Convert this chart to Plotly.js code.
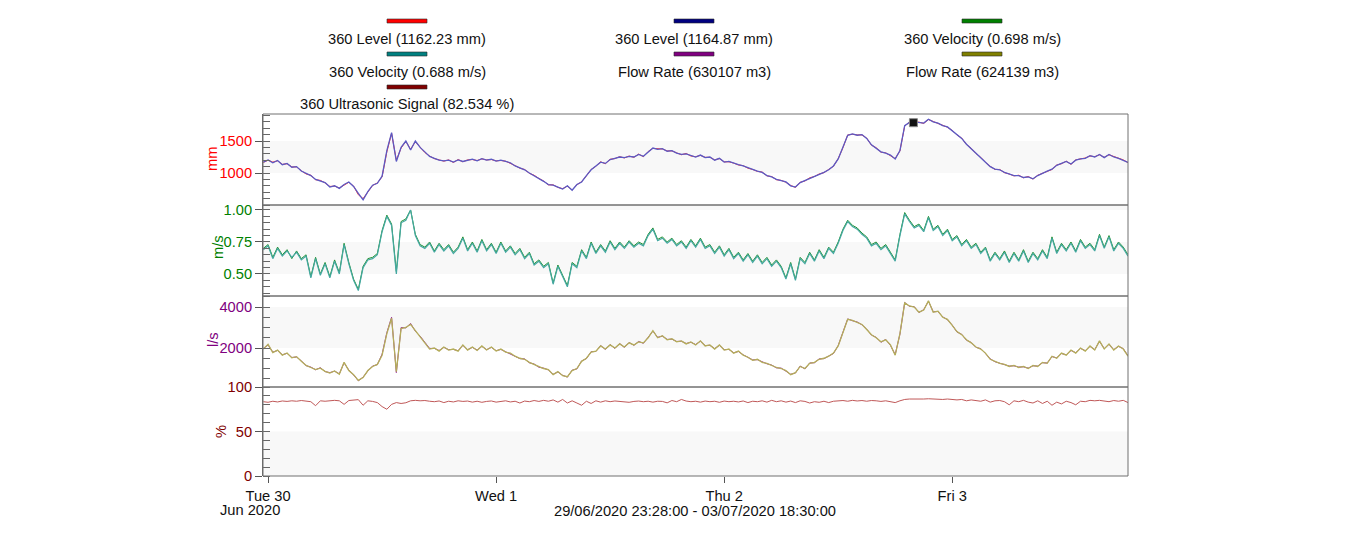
<!DOCTYPE html>
<html>
<head>
<meta charset="utf-8">
<script src="https://cdn.plot.ly/plotly-3.0.1.min.js"></script>
<style>html,body{margin:0;padding:0;background:#fff;}#chart{width:1350px;height:539px;}</style>
</head>
<body>
<div id="chart"></div>
<script>
// ---------- DATA ----------
const startTime = '2020-06-29 23:30';   // first sample
const stepMinutes = 30;                 // sample interval
const rangeStart = '2020-06-29 23:28';
const rangeEnd = '2020-07-03 18:30';

const dayTickVals = ['2020-06-30', '2020-07-01', '2020-07-02', '2020-07-03'];
const dayTickText = ['Tue 30', 'Wed 1', 'Thu 2', 'Fri 3'];

const seriesNames = [
  '360 Level (1162.23 mm)', '360 Level (1164.87 mm)', '360 Velocity (0.698 m/s)',
  '360 Velocity (0.688 m/s)', 'Flow Rate (630107 m3)', 'Flow Rate (624139 m3)',
  '360 Ultrasonic Signal (82.534 %)'
];
const seriesColors = ['#ff0000', '#000080', '#008000', '#008080', '#800080', '#808000', '#800000'];
const lineColors = ['#ff3030', '#5a5ac4', '#1f8f2f', '#45a8a2', '#9a2a9a', '#b4ae5a', '#c05858'];
const lineWidths = [1, 1.3, 1, 1.2, 1, 1.3, 1];

// Level (mm) - red series
const levelA = [1165,1200,1170,1190,1135,1145,1095,1095,1035,985,
965,895,885,845,790,795,765,815,855,795,
660,600,700,805,845,940,1330,1620,1200,1390,
1495,1370,1490,1405,1320,1265,1225,1205,1185,1205,
1165,1210,1175,1205,1210,1195,1220,1205,1210,1190,
1195,1185,1155,1115,1075,1055,995,965,915,875,
815,815,775,755,795,735,815,865,955,1055,
1105,1175,1145,1215,1225,1255,1235,1265,1245,1295,
1255,1335,1385,1375,1375,1345,1345,1315,1285,1305,
1265,1255,1275,1245,1245,1205,1225,1175,1175,1155,
1125,1115,1075,1055,1025,1015,955,945,895,885,
855,805,775,855,875,925,945,985,1005,1055,
1105,1225,1395,1595,1605,1595,1595,1545,1435,1395,
1325,1315,1275,1225,1345,1735,1795,1795,1795,1775,
1835,1805,1775,1745,1715,1665,1595,1545,1445,1385,
1305,1245,1165,1105,1055,1055,1005,985,955,965,
925,945,905,965,995,1035,1055,1125,1145,1185,
1135,1205,1215,1235,1265,1255,1285,1245,1285,1255,
1225,1205,1162];
// Level (mm) - navy series
const levelB = [1170,1205,1160,1195,1130,1150,1090,1100,1030,990,
960,900,880,850,780,800,760,820,860,790,
680,580,710,810,840,950,1350,1630,1180,1400,
1500,1360,1500,1400,1330,1260,1230,1200,1190,1200,
1170,1205,1180,1200,1215,1190,1225,1200,1215,1185,
1200,1180,1160,1110,1080,1050,1000,960,920,870,
820,810,780,750,800,730,820,860,960,1050,
1110,1170,1150,1210,1230,1250,1240,1260,1250,1290,
1260,1330,1390,1370,1380,1340,1350,1310,1290,1300,
1270,1250,1280,1240,1250,1200,1230,1170,1180,1150,
1130,1110,1080,1050,1030,1010,960,940,900,880,
860,800,780,850,880,920,950,980,1010,1050,
1110,1220,1400,1590,1610,1590,1600,1540,1440,1390,
1330,1310,1280,1220,1350,1740,1790,1800,1790,1780,
1840,1800,1780,1740,1720,1660,1600,1540,1450,1380,
1310,1240,1170,1100,1060,1050,1010,980,960,960,
930,940,910,960,1000,1030,1060,1120,1150,1180,
1140,1200,1220,1230,1270,1250,1290,1240,1290,1250,
1230,1200,1165];
// Velocity (m/s) - green series
const velA = [0.70,0.73,0.63,0.71,0.65,0.69,0.62,0.68,0.62,0.65,
0.48,0.63,0.50,0.59,0.48,0.61,0.51,0.74,0.59,0.46,
0.38,0.56,0.62,0.63,0.66,0.84,0.96,0.89,0.52,0.91,
0.93,1.00,0.81,0.73,0.71,0.75,0.68,0.74,0.69,0.73,
0.67,0.71,0.79,0.69,0.75,0.68,0.77,0.69,0.74,0.67,
0.75,0.68,0.72,0.66,0.70,0.63,0.67,0.58,0.61,0.56,
0.59,0.43,0.57,0.49,0.41,0.59,0.56,0.69,0.63,0.75,
0.67,0.73,0.68,0.76,0.70,0.75,0.71,0.76,0.72,0.75,
0.73,0.81,0.86,0.77,0.79,0.75,0.78,0.73,0.76,0.71,
0.77,0.72,0.78,0.71,0.73,0.67,0.72,0.65,0.70,0.63,
0.67,0.61,0.66,0.60,0.65,0.59,0.63,0.57,0.61,0.56,
0.47,0.59,0.46,0.63,0.59,0.67,0.61,0.69,0.63,0.71,
0.67,0.75,0.85,0.92,0.88,0.86,0.82,0.79,0.73,0.75,
0.70,0.73,0.67,0.61,0.81,0.98,0.92,0.87,0.89,0.84,
0.95,0.85,0.88,0.81,0.85,0.77,0.80,0.73,0.77,0.71,
0.74,0.67,0.71,0.61,0.67,0.62,0.68,0.60,0.67,0.61,
0.69,0.60,0.67,0.62,0.69,0.63,0.79,0.67,0.74,0.69,
0.75,0.68,0.77,0.71,0.74,0.69,0.81,0.71,0.80,0.69,
0.75,0.71,0.65];
// Velocity (m/s) - teal series
const velB = [0.69,0.72,0.62,0.70,0.64,0.68,0.63,0.67,0.61,0.64,
0.47,0.62,0.49,0.58,0.47,0.60,0.50,0.73,0.58,0.45,
0.37,0.55,0.61,0.62,0.65,0.83,0.95,0.88,0.50,0.90,
0.92,1.00,0.80,0.72,0.70,0.74,0.67,0.73,0.68,0.72,
0.66,0.70,0.78,0.68,0.74,0.67,0.76,0.68,0.73,0.66,
0.74,0.67,0.71,0.65,0.69,0.62,0.66,0.57,0.60,0.55,
0.58,0.42,0.56,0.48,0.40,0.58,0.55,0.68,0.62,0.74,
0.66,0.72,0.67,0.75,0.69,0.74,0.70,0.75,0.71,0.74,
0.72,0.80,0.85,0.76,0.78,0.74,0.77,0.72,0.75,0.70,
0.76,0.71,0.77,0.70,0.72,0.66,0.71,0.64,0.69,0.62,
0.66,0.60,0.65,0.59,0.64,0.58,0.62,0.56,0.60,0.55,
0.46,0.58,0.45,0.62,0.58,0.66,0.60,0.68,0.62,0.70,
0.66,0.74,0.84,0.91,0.87,0.85,0.81,0.78,0.72,0.74,
0.69,0.72,0.66,0.60,0.80,0.97,0.91,0.86,0.88,0.83,
0.94,0.84,0.87,0.80,0.84,0.76,0.79,0.72,0.76,0.70,
0.73,0.66,0.70,0.60,0.66,0.61,0.67,0.59,0.66,0.60,
0.68,0.59,0.66,0.61,0.68,0.62,0.78,0.66,0.73,0.68,
0.74,0.67,0.76,0.70,0.73,0.68,0.80,0.70,0.79,0.68,
0.74,0.70,0.64];
// Flow rate (l/s) - purple series
const flowA = [1980,2150,1800,1880,1670,1740,1540,1560,1370,1140,
1070,940,1040,850,800,870,740,1280,920,690,
400,580,880,1120,1190,1700,2750,3500,800,3000,
2980,3200,2820,2580,2280,1980,1980,1880,2030,1920,
1930,1870,2130,1920,2030,1900,2080,1920,2030,1870,
1930,1820,1730,1620,1480,1470,1280,1220,1060,1020,
930,720,830,670,580,920,980,1370,1480,1820,
1830,2120,1930,2170,1980,2220,2030,2270,2130,2320,
2230,2520,2830,2520,2580,2420,2430,2320,2330,2220,
2280,2170,2330,2120,2130,1970,2130,1920,1930,1770,
1830,1670,1530,1420,1430,1320,1230,1170,1030,1020,
880,720,780,1120,980,1270,1280,1470,1480,1620,
1730,2120,2780,3420,3330,3270,3130,2920,2630,2520,
2280,2420,2130,1680,2680,4220,4030,4020,3730,3870,
4280,3770,3780,3520,3380,3120,2780,2670,2380,2270,
2030,1970,1730,1470,1330,1270,1180,1120,1130,1070,
1080,1020,1130,1120,1280,1270,1580,1520,1730,1670,
1880,1770,1980,1870,2080,1920,2330,1970,2180,1920,
2080,1970,1620];
// Flow rate (l/s) - olive series
const flowB = [1950,2180,1780,1900,1650,1760,1520,1580,1350,1150,
1050,950,1020,860,780,880,720,1300,900,700,
420,560,900,1100,1200,1650,2700,3450,850,2950,
3000,3150,2850,2550,2300,1950,2000,1850,2050,1900,
1950,1850,2150,1900,2050,1880,2100,1900,2050,1850,
1950,1800,1750,1600,1500,1450,1300,1200,1080,1000,
950,700,850,650,600,900,1000,1350,1500,1800,
1850,2100,1950,2150,2000,2200,2050,2250,2150,2300,
2250,2500,2850,2500,2600,2400,2450,2300,2350,2200,
2300,2150,2350,2100,2150,1950,2150,1900,1950,1750,
1850,1650,1550,1400,1450,1300,1250,1150,1050,1000,
900,700,800,1100,1000,1250,1300,1450,1500,1600,
1750,2100,2800,3400,3350,3250,3150,2900,2650,2500,
2300,2400,2150,1650,2700,4200,4050,4000,3750,3850,
4300,3750,3800,3500,3400,3100,2800,2650,2400,2250,
2050,1950,1750,1450,1350,1250,1200,1100,1150,1050,
1100,1000,1150,1100,1300,1250,1600,1500,1750,1650,
1900,1750,2000,1850,2100,1900,2350,1950,2200,1900,
2100,1950,1600];
// Ultrasonic signal (%)
const signal = [83.5,82.8,84.0,83.2,84.3,83.8,84.5,84.0,84.8,84.2,
83.5,79.0,84.5,84.0,84.8,85.0,84.5,80.5,84.8,85.5,
85.8,79.5,84.5,83.8,82.5,78.0,75.0,80.5,82.5,81.5,
82.3,84.5,85.0,84.5,84.8,84.0,83.5,84.3,82.5,84.0,
83.2,84.5,83.8,84.2,83.0,84.0,82.8,83.8,84.3,83.0,
83.8,84.5,83.2,84.0,82.0,84.2,83.5,84.8,83.8,85.0,
84.0,85.5,83.0,86.0,82.0,84.5,82.0,79.5,84.0,81.5,
84.5,83.0,84.5,83.5,84.3,83.8,84.0,82.8,83.8,84.2,
83.5,84.0,83.0,84.0,83.8,82.2,84.8,83.5,86.0,84.2,
83.5,84.0,83.0,84.2,83.5,84.0,82.8,84.2,83.5,84.0,
83.2,84.3,82.5,84.0,83.5,84.5,83.0,85.0,83.5,84.5,
83.0,84.2,82.5,84.5,83.8,82.0,83.5,82.8,84.0,82.5,
84.0,84.5,84.8,84.0,85.0,84.3,84.8,84.0,84.8,84.5,
83.8,84.5,83.5,82.5,84.5,86.0,86.5,86.3,86.8,86.5,
86.8,86.3,86.5,86.0,86.5,86.0,85.5,86.0,84.5,85.5,
84.8,84.0,85.5,83.0,84.5,84.8,83.5,80.0,84.5,83.5,
85.0,83.0,82.0,84.5,81.5,84.0,79.5,83.0,81.0,84.0,
82.5,80.0,84.0,83.5,85.0,84.5,85.0,84.3,83.5,84.8,
84.0,85.0,82.5];

// event marker on the level panel
const markerTime = ['2020-07-02 19:55'];
const markerLevel = [1786];

// ---------- BUILD ----------
function pad(n){return (n<10?'0':'')+n;}
const t0 = Date.UTC(2020,5,29,23,30);
const times = levelB.map((_, i) => {
  const d = new Date(t0 + i*stepMinutes*60000);
  return d.getUTCFullYear()+'-'+pad(d.getUTCMonth()+1)+'-'+pad(d.getUTCDate())+' '+pad(d.getUTCHours())+':'+pad(d.getUTCMinutes());
});

const series = [levelA, levelB, velA, velB, flowA, flowB, signal];
const axesOf = ['y', 'y', 'y2', 'y2', 'y3', 'y3', 'y4'];
const traces = series.map((s, k) => ({
  type: 'scatter', mode: 'lines', x: times, y: s, xaxis: 'x', yaxis: axesOf[k],
  name: seriesNames[k], line: {color: lineColors[k], width: lineWidths[k]},
  hoverinfo: 'skip'
}));
traces.push({type:'scatter', mode:'markers', x: markerTime, y: markerLevel, xaxis:'x', yaxis:'y',
  marker:{symbol:'square', size:8, color:'#111', line:{color:'#888', width:1}}, hoverinfo:'skip'});

// pixel -> paper helpers for decorations
const L = 263, R = 1128, T = 114, B = 476;
const PX = p => (p - L) / (R - L);
const PY = p => (B - p) / (B - T);

const dom4 = [0, PY(387)], dom3 = [PY(387), PY(296)], dom2 = [PY(296), PY(205)], dom1 = [PY(205), 1];

const FONT = 'Arial, "Liberation Sans", sans-serif';
const FS = 14.67;
function yax(domain, range, tickvals, ticktext, color, minorStep) {
  return {
    domain, range, tickmode: 'array', tickvals, ticktext, anchor: 'x',
    ticks: 'outside', ticklen: 7, tickcolor: '#555', tickwidth: 1,
    tickfont: {family: FONT, size: FS, color},
    showgrid: false, zeroline: false, showline: true, linecolor: '#666', linewidth: 1,
    minor: {tickmode: 'linear', tick0: 0, dtick: minorStep, ticks: 'inside', ticklen: 7, tickcolor: '#666', showgrid: false},
    fixedrange: true
  };
}

const shapes = [];
const bands = [['y',1000,1500],['y2',0.5,0.75],['y2',1.0,1.039],['y3',2000,4000],['y4',0,50]];
bands.forEach(b => shapes.push({type:'rect', xref:'paper', yref:b[0], x0:0, x1:1, y0:b[1], y1:b[2],
  fillcolor:'#f8f8f8', line:{width:0}, layer:'below'}));
[dom1, dom2, dom3, dom4].forEach(d => shapes.push({type:'rect', xref:'paper', yref:'paper', x0:0, x1:1, y0:d[0], y1:d[1],
  line:{color:'#707070', width:1}, fillcolor:'rgba(0,0,0,0)', layer:'above'}));

// legend (three columns of swatch + text)
const legendPos = [[407,1],[694,1],[982,1],[407,2],[694,2],[982,2],[407,3]];
const rowSwatchY = {1:21, 2:54, 3:87};
const rowTextY = {1:39, 2:72, 3:104};
const annotations = [];
legendPos.forEach((p, k) => {
  shapes.push({type:'rect', xref:'paper', yref:'paper', x0:PX(p[0]-20), x1:PX(p[0]+20),
    y0:PY(rowSwatchY[p[1]]+2), y1:PY(rowSwatchY[p[1]]-2), fillcolor:seriesColors[k],
    line:{color:'rgba(40,40,40,0.6)', width:1}, layer:'above'});
  annotations.push({xref:'paper', yref:'paper', x:PX(p[0]), y:PY(rowTextY[p[1]]), text:seriesNames[k],
    showarrow:false, xanchor:'center', yanchor:'middle', font:{family:FONT, size:FS, color:'#111'}});
});

// axis titles
const axTitles = [['mm', 212, 159, '#ff0000'], ['m/s', 218, 247, '#008000'], ['l/s', 213, 340, '#800080'], ['%', 221, 432, '#800000']];
axTitles.forEach(a => annotations.push({xref:'paper', yref:'paper', x:PX(a[1]), y:PY(a[2]), text:a[0], textangle:-90,
  showarrow:false, xanchor:'center', yanchor:'middle', font:{family:FONT, size:FS, color:a[3]}}));

annotations.push({xref:'paper', yref:'paper', x:PX(250), y:PY(510), text:'Jun 2020', showarrow:false,
  xanchor:'center', yanchor:'middle', font:{family:FONT, size:FS, color:'#111'}});
annotations.push({xref:'paper', yref:'paper', x:PX(695), y:PY(511), text:rangeStart.replace(/(\d+)-(\d+)-(\d+) (.*)/, '$3/$2/$1 $4') + ':00 - ' + rangeEnd.replace(/(\d+)-(\d+)-(\d+) (.*)/, '$3/$2/$1 $4') + ':00',
  showarrow:false, xanchor:'center', yanchor:'middle', font:{family:FONT, size:FS, color:'#111'}});

const layout = {
  width: 1350, height: 539,
  margin: {l: L, r: 1350 - R, t: T, b: 539 - B, pad: 0},
  paper_bgcolor: '#ffffff', plot_bgcolor: 'rgba(0,0,0,0)',
  showlegend: false,
  font: {family: FONT, size: FS, color: '#111'},
  xaxis: {type: 'date', range: [rangeStart, rangeEnd], anchor: 'y4', tickmode: 'array',
    tickvals: dayTickVals, ticktext: dayTickText, ticks: 'outside', ticklen: 6, tickcolor: '#555',
    tickfont: {family: FONT, size: FS, color: '#111'}, showgrid: false, zeroline: false, showline: false, fixedrange: true},
  yaxis: yax(dom1, [500, 1922], [1000, 1500], ['1000', '1500'], '#ff0000', 100),
  yaxis2: yax(dom2, [0.328, 1.039], [0.5, 0.75, 1.0], ['0.50', '0.75', '1.00'], '#008000', 0.05),
  yaxis3: yax(dom3, [98, 4537], [2000, 4000], ['2000', '4000'], '#800080', 500),
  yaxis4: yax(dom4, [0, 100], [0, 50, 100], ['0', '50', '100'], '#800000', 10),
  shapes, annotations
};

Plotly.newPlot('chart', traces, layout, {displayModeBar: false, staticPlot: true});
</script>
</body>
</html>
